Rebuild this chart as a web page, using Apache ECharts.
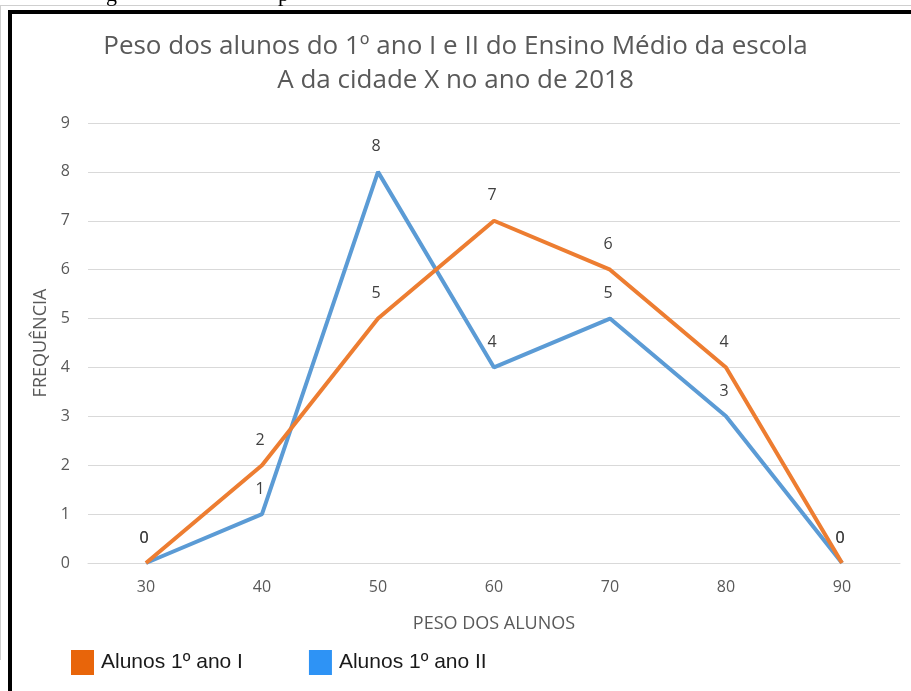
<!DOCTYPE html>
<html><head><meta charset="utf-8">
<script src="https://cdn.jsdelivr.net/npm/echarts@6/dist/echarts.min.js"></script>
<style>html,body{margin:0;padding:0;background:#fff}#c{width:911px;height:691px}</style>
</head><body><div id="c"></div>
<script>
var categories = ['30','40','50','60','70','80','90'];
var alunosI = [0,2,5,7,6,4,0];
var alunosII = [0,1,8,4,5,3,0];
var yTicks = [0,1,2,3,4,5,6,7,8,9];
var titleText = 'Peso dos alunos do 1º ano I e II do Ensino Médio da escola\nA da cidade X no ano de 2018';

var chart = echarts.init(document.getElementById('c'));
var labelStyle = {show:true, position:'top', distance:17, offset:[-2,0], color:'#404040', fontSize:16, fontFamily:'Open Sans', opacity:1};
chart.setOption({
  animation:false,
  backgroundColor:'#fff',
  title:{text:titleText, left:'center', top:25,
    textStyle:{fontFamily:'Open Sans', fontWeight:'normal', fontSize:26, color:'#595959', lineHeight:34}},
  legend:{left:66, top:645, itemWidth:23, itemHeight:25, itemGap:66, icon:'rect',
    textStyle:{fontFamily:'Liberation Sans', fontSize:21, color:'#1a1a1a', padding:[0,0,0,2]},
    data:[{name:'Alunos 1º ano I', itemStyle:{color:'#E8650A', opacity:1}},{name:'Alunos 1º ano II', itemStyle:{color:'#2E93F5', opacity:1}}]},
  grid:{left:88, right:11, top:123, bottom:128, containLabel:false},
  xAxis:{type:'category', data:categories, boundaryGap:true,
    name:'PESO DOS ALUNOS', nameLocation:'middle', nameGap:52,
    nameTextStyle:{fontFamily:'Open Sans', fontSize:18, color:'#595959'},
    axisLine:{show:true, lineStyle:{color:'#d9d9d9', width:1}}, axisTick:{show:false},
    axisLabel:{fontFamily:'Open Sans', fontSize:16, color:'#595959', margin:16}},
  yAxis:{type:'value', min:yTicks[0], max:yTicks[yTicks.length-1], interval:1,
    name:'FREQUÊNCIA', nameLocation:'middle', nameGap:36, nameRotate:90,
    nameTextStyle:{fontFamily:'Open Sans', fontSize:18, color:'#595959'},
    axisLine:{show:false}, axisTick:{show:false},
    axisLabel:{fontFamily:'Open Sans', fontSize:16, color:'#595959', margin:18},
    splitLine:{lineStyle:{color:'#d9d9d9', width:1}}},
  series:[
    {name:'Alunos 1º ano I', type:'line', data:alunosI, symbol:'circle', symbolSize:0.1, showSymbol:true, z:4,
      lineStyle:{color:'#ED7D31', width:4}, itemStyle:{color:'#ED7D31'}, label:labelStyle},
    {name:'Alunos 1º ano II', type:'line', data:alunosII, symbol:'circle', symbolSize:0.1, showSymbol:true, z:3,
      lineStyle:{color:'#5B9BD5', width:4}, itemStyle:{color:'#5B9BD5'}, label:labelStyle}
  ],
  graphic:[
    {type:'rect', shape:{x:0,y:5,width:911,height:1}, style:{fill:'#cfcfcf'}, silent:true},
    {type:'rect', shape:{x:0,y:5,width:1,height:655}, style:{fill:'#cfcfcf'}, silent:true},
    {type:'rect', shape:{x:8,y:10,width:903,height:4}, style:{fill:'#000'}, silent:true},
    {type:'rect', shape:{x:8,y:10,width:4,height:681}, style:{fill:'#000'}, silent:true},
    {type:'text', left:106, top:-16, style:{text:'g', font:'22px "Liberation Serif"', fill:'#000'}, silent:true},
    {type:'text', left:278, top:-16, style:{text:'p', font:'22px "Liberation Serif"', fill:'#000'}, silent:true}
  ]
});
</script></body></html>
